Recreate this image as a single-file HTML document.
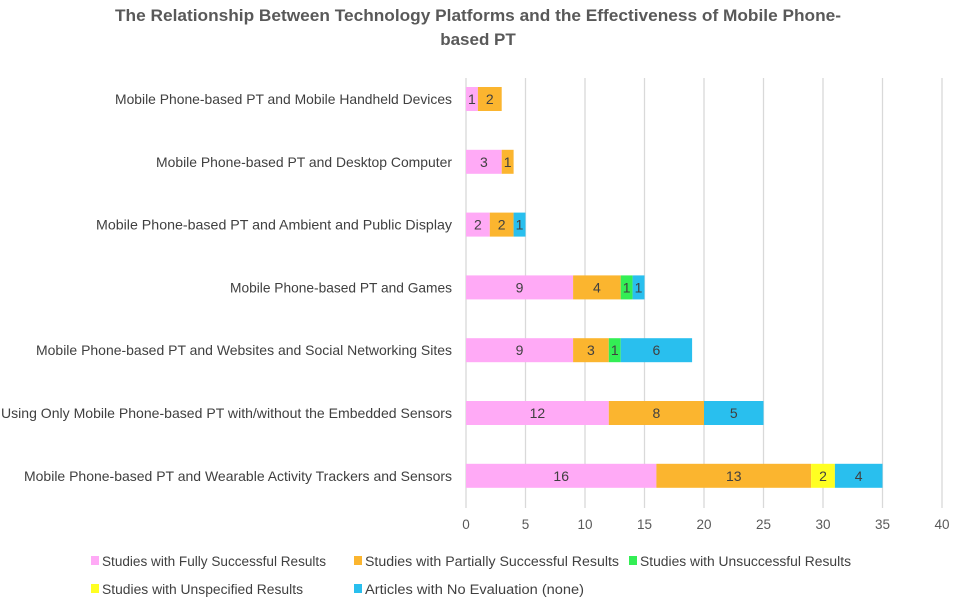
<!DOCTYPE html>
<html><head><meta charset="utf-8"><style>
body{margin:0;background:#fff;font-family:"Liberation Sans",sans-serif;}
svg text{font-family:"Liberation Sans",sans-serif;}
</style></head><body>
<svg id="chart" width="957" height="603" viewBox="0 0 957 603" xmlns="http://www.w3.org/2000/svg">
<text x="478" y="21" text-anchor="middle" font-size="17" font-weight="bold" fill="#595959" textLength="726" lengthAdjust="spacingAndGlyphs">The Relationship Between Technology Platforms and the Effectiveness of Mobile Phone-</text>
<text x="478" y="45" text-anchor="middle" font-size="17" font-weight="bold" fill="#595959">based PT</text>
<g id="grid"></g><g id="bars"></g><g id="labels"></g><g id="ticks"></g><g id="legend"></g>
</svg>
<script>
const categories=["Mobile Phone-based PT and Mobile Handheld Devices","Mobile Phone-based PT and Desktop Computer","Mobile Phone-based PT  and Ambient  and Public Display","Mobile Phone-based PT and Games","Mobile Phone-based PT and Websites and Social Networking Sites","Using Only Mobile Phone-based PT with/without the Embedded Sensors","Mobile Phone-based PT and Wearable Activity Trackers and Sensors"];
const seriesNames=["Studies with Fully Successful Results","Studies with Partially Successful Results","Studies with Unsuccessful Results","Studies with Unspecified Results","Articles with No Evaluation (none)"];
const fullySuccessful=[1,3,2,9,9,12,16];
const partiallySuccessful=[2,1,2,4,3,8,13];
const unsuccessful=[0,0,0,1,1,0,0];
const unspecified=[0,0,0,0,0,0,2];
const noEvaluation=[0,0,1,1,6,5,4];
const tickValues=[0,5,10,15,20,25,30,35,40];
const series=[fullySuccessful,partiallySuccessful,unsuccessful,unspecified,noEvaluation];
const colors=["#ffaaf6","#fbb52f","#33ee55","#ffff22","#29bfee"];
const labelLeft=[115,156,96,230,36,1,24];
const NS="http://www.w3.org/2000/svg";
const x0=466,x1=942,xMax=40,yTop=68,yBot=508;
const xs=v=>x0+v/xMax*(x1-x0);
const band=62.8;
const yc=i=>99+band*i;
function mk(tag,parent,attrs){const e=document.createElementNS(NS,tag);for(const k in attrs)e.setAttribute(k,attrs[k]);document.getElementById(parent).appendChild(e);return e;}
tickValues.forEach(t=>{
 const l=mk('line','grid',{x1:xs(t),x2:xs(t),y1:78,y2:yBot,stroke:'#d9d9d9','stroke-width':1.3});
 
 
 const tx=mk('text','ticks',{x:xs(t),y:529,'text-anchor':'middle','font-size':13.5,fill:'#595959'});
 tx.textContent=t;
 
 
});
categories.forEach((c,i)=>{
 const tx=mk('text','labels',{x:452,y:yc(i)+5,'text-anchor':'end','font-size':14,fill:'#404040',textLength:452-labelLeft[i],lengthAdjust:'spacingAndGlyphs'});
 tx.textContent=c;
 
 
 let acc=0;
 series.forEach((s,j)=>{
  const v=s[i]; if(!v) return;
  const r=mk('rect','bars',{x:xs(acc),y:yc(i)-12,width:xs(acc+v)-xs(acc),height:24,fill:colors[j]});
  
  
  const t=mk('text','bars',{x:(xs(acc)+xs(acc+v))/2,y:yc(i)+5,'text-anchor':'middle','font-size':14,fill:'#404040'});
  t.textContent=v;
  
  
  acc+=v;
 });
});
const legPos=[[91,561],[354,561],[629,561],[91,589],[354,589]];
const legLen=[224,254,211,201,219];
seriesNames.forEach((n,j)=>{
 const r=mk('rect','legend',{x:legPos[j][0],y:legPos[j][1]-5,width:8,height:9,fill:colors[j]});
 
 
 const t=mk('text','legend',{x:legPos[j][0]+11,y:legPos[j][1]+5,'font-size':13.5,fill:'#404040',textLength:legLen[j],lengthAdjust:'spacingAndGlyphs'});
 t.textContent=n;
 
 
});
</script>
</body></html>
